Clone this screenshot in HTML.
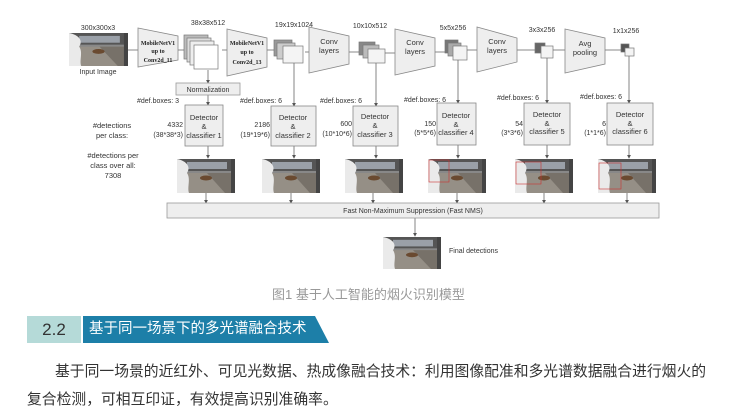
<!DOCTYPE html>
<html><head><meta charset="utf-8"><style>
body{margin:0;background:#fff;width:731px;height:419px;overflow:hidden;position:relative;font-family:"Liberation Sans","Noto Sans CJK SC",sans-serif}
svg{position:absolute;left:0;top:0}
.cap{position:absolute;left:272px;top:284px;font-size:13px;color:#999;white-space:nowrap}
.h1{position:absolute;left:27px;top:316px;width:54px;height:27px;background:#b5dad8;color:#333;font-size:17px;line-height:27px;text-align:center}
.h2{position:absolute;left:83px;top:316px;width:246px;height:27px;background:#1d7fa8;clip-path:polygon(0 0,232px 0,246px 27px,0 27px);color:#fff;font-size:14.5px;line-height:27px;padding-left:6px;box-sizing:border-box;white-space:nowrap}
.p{position:absolute;left:27px;font-size:14.8px;color:#333;white-space:nowrap}
</style></head><body>
<svg width="731" height="280" viewBox="0 0 731 280" font-family="Liberation Sans, sans-serif" font-size="7" fill="#333">
<defs>
<symbol id="im" viewBox="0 0 58 34" preserveAspectRatio="none">
<rect width="58" height="34" fill="#888"/>
<rect width="58" height="12" fill="#555"/>
<rect x="10" y="3" width="40" height="7" fill="#9aa0a8"/>
<polygon points="0,34 0,14 58,14 58,34" fill="#958f86"/>
<polygon points="30,14 58,14 58,34 48,34" fill="#777169"/>
<ellipse cx="29" cy="19" rx="6" ry="2.5" fill="#6a4a30"/>
<path d="M0,0 C10,2 14,8 10,14 C14,20 10,28 12,34 L0,34Z" fill="#eaeaea"/>
<rect x="54" y="0" width="4" height="34" fill="#444"/>
</symbol>
<marker id="ar" markerWidth="5" markerHeight="5" refX="4" refY="2.5" orient="auto"><path d="M0,0 L5,2.5 L0,5Z" fill="#555"/></marker>
</defs>
<g stroke="#888" stroke-width="1" fill="none">
<line x1="128" y1="50" x2="138" y2="50"/><line x1="178" y1="50" x2="186" y2="50"/>
<line x1="222" y1="50" x2="227" y2="50"/><line x1="267" y1="50" x2="276" y2="50"/>
<line x1="305" y1="52" x2="309" y2="52"/><line x1="349" y1="52" x2="361" y2="52"/>
<line x1="385" y1="53" x2="395" y2="53"/><line x1="435" y1="52" x2="447" y2="52"/>
<line x1="467" y1="50" x2="477" y2="50"/><line x1="517" y1="50" x2="537" y2="50"/>
<line x1="553" y1="50" x2="565" y2="50"/><line x1="605" y1="50" x2="623" y2="50"/>
</g>
<g stroke="#666" stroke-width="0.8" marker-end="url(#ar)">
<line x1="208" y1="70" x2="208" y2="83"/><line x1="208" y1="95" x2="208" y2="105"/>
<line x1="294" y1="62" x2="294" y2="106"/><line x1="376" y1="63" x2="376" y2="106"/>
<line x1="458" y1="60" x2="458" y2="103"/><line x1="547" y1="58" x2="547" y2="103"/>
<line x1="629" y1="56" x2="629" y2="103"/>
<line x1="208" y1="146" x2="208" y2="158"/><line x1="294" y1="146" x2="294" y2="158"/>
<line x1="376" y1="146" x2="376" y2="158"/><line x1="458" y1="145" x2="458" y2="158"/>
<line x1="547" y1="145" x2="547" y2="158"/><line x1="629" y1="145" x2="629" y2="158"/>
<line x1="206" y1="193" x2="206" y2="203"/><line x1="291" y1="193" x2="291" y2="203"/>
<line x1="373" y1="193" x2="373" y2="203"/><line x1="457" y1="193" x2="457" y2="203"/>
<line x1="544" y1="193" x2="544" y2="203"/><line x1="627" y1="193" x2="627" y2="203"/>
<line x1="415" y1="218" x2="415" y2="236"/>
</g>
<use href="#im" x="69" y="33" width="59" height="33"/>
<text x="98" y="30" text-anchor="middle">300x300x3</text>
<text x="98" y="74" text-anchor="middle">Input Image</text>
<g fill="#eee" stroke="#888" stroke-width="0.8">
<polygon points="138,28 178,36 178,60 138,67"/>
<polygon points="227,29 267,38 267,67 227,76"/>
<polygon points="309,27 349,36 349,64 309,73"/>
<polygon points="395,29 435,38 435,66 395,75"/>
<polygon points="477,27 517,38 517,62 477,72"/>
<polygon points="565,29 605,38 605,64 565,73"/>
</g>
<g font-family="Liberation Serif, serif" font-weight="bold" font-size="6" text-anchor="middle" fill="#222">
<text x="158" y="45">MobileNetV1</text><text x="158" y="53">up to</text><text x="158" y="62">Conv2d_11</text>
<text x="247" y="45">MobileNetV1</text><text x="247" y="54">up to</text><text x="247" y="64">Conv2d_13</text>
</g>
<g text-anchor="middle" font-size="7.5">
<text x="329" y="44">Conv</text><text x="329" y="53">layers</text>
<text x="415" y="45">Conv</text><text x="415" y="54">layers</text>
<text x="497" y="44">Conv</text><text x="497" y="53">layers</text>
<text x="585" y="46">Avg</text><text x="585" y="55">pooling</text>
</g>
<g stroke="#777" stroke-width="0.7">
<rect x="184" y="35" width="24" height="24" fill="#bbb"/><rect x="187" y="38" width="24" height="24" fill="#ddd"/><rect x="190" y="41" width="24" height="24" fill="#eee"/><rect x="194" y="45" width="24" height="24" fill="#fff"/>
<rect x="274" y="40" width="18" height="16" fill="#999"/><rect x="277" y="43" width="18" height="16" fill="#ccc"/><rect x="283" y="46" width="20" height="17" fill="#f4f4f4"/>
<rect x="359" y="42" width="16" height="13" fill="#888"/><rect x="363" y="45" width="16" height="13" fill="#bbb"/><rect x="368" y="49" width="17" height="14" fill="#f4f4f4"/>
<rect x="445" y="40" width="13" height="13" fill="#777"/><rect x="448" y="43" width="13" height="13" fill="#aaa"/><rect x="453" y="46" width="14" height="14" fill="#f4f4f4"/>
<rect x="535" y="43" width="10" height="10" fill="#666"/><rect x="541" y="46" width="12" height="12" fill="#f4f4f4"/>
<rect x="621" y="44" width="8" height="8" fill="#555"/><rect x="625" y="48" width="9" height="8" fill="#f4f4f4"/>
</g>
<text x="208" y="25" text-anchor="middle">38x38x512</text>
<text x="294" y="27" text-anchor="middle">19x19x1024</text>
<text x="370" y="28" text-anchor="middle">10x10x512</text>
<text x="453" y="30" text-anchor="middle">5x5x256</text>
<text x="542" y="32" text-anchor="middle">3x3x256</text>
<text x="626" y="33" text-anchor="middle">1x1x256</text>
<rect x="176" y="83" width="64" height="12" fill="#eee" stroke="#999" stroke-width="0.8"/>
<text x="208" y="92" text-anchor="middle">Normalization</text>
<text x="137" y="103">#def.boxes: 3</text>
<text x="240" y="103">#def.boxes: 6</text>
<text x="320" y="103">#def.boxes: 6</text>
<text x="404" y="102">#def.boxes: 6</text>
<text x="497" y="100">#def.boxes: 6</text>
<text x="580" y="99">#def.boxes: 6</text>
<g fill="#eee" stroke="#888" stroke-width="0.8">
<rect x="185" y="105" width="38" height="41"/><rect x="271" y="106" width="45" height="40"/><rect x="353" y="106" width="45" height="40"/>
<rect x="437" y="103" width="39" height="42"/><rect x="524" y="103" width="46" height="42"/><rect x="607" y="103" width="46" height="42"/>
</g>
<g text-anchor="middle" font-size="7.5">
<text x="204" y="120">Detector</text><text x="204" y="129">&amp;</text><text x="204" y="138">classifier 1</text>
<text x="293" y="120">Detector</text><text x="293" y="129">&amp;</text><text x="293" y="138">classifier 2</text>
<text x="375" y="119">Detector</text><text x="375" y="128">&amp;</text><text x="375" y="137">classifier 3</text>
<text x="456" y="118">Detector</text><text x="456" y="127">&amp;</text><text x="456" y="135">classifier 4</text>
<text x="547" y="117">Detector</text><text x="547" y="126">&amp;</text><text x="547" y="134">classifier 5</text>
<text x="630" y="117">Detector</text><text x="630" y="126">&amp;</text><text x="630" y="134">classifier 6</text>
</g>
<g text-anchor="end">
<text x="183" y="127">4332</text><text x="183" y="137">(38*38*3)</text>
<text x="270" y="127">2186</text><text x="270" y="137">(19*19*6)</text>
<text x="352" y="126">600</text><text x="352" y="136">(10*10*6)</text>
<text x="436" y="126">150</text><text x="436" y="135">(5*5*6)</text>
<text x="523" y="126">54</text><text x="523" y="135">(3*3*6)</text>
<text x="606" y="126">6</text><text x="606" y="135">(1*1*6)</text>
</g>
<g text-anchor="middle" font-size="7.5">
<text x="112" y="128">#detections</text><text x="112" y="138">per class:</text>
<text x="113" y="158">#detections per</text><text x="113" y="168">class over all:</text><text x="113" y="178">7308</text>
</g>
<use href="#im" x="177" y="159" width="58" height="34"/>
<use href="#im" x="262" y="159" width="58" height="34"/>
<use href="#im" x="345" y="159" width="58" height="34"/>
<use href="#im" x="428" y="159" width="58" height="34"/>
<use href="#im" x="515" y="159" width="58" height="34"/>
<use href="#im" x="598" y="159" width="58" height="34"/>
<g fill="none" stroke="#c33" stroke-width="0.6">
<rect x="429" y="160" width="20" height="22"/><rect x="516" y="162" width="25" height="22"/><rect x="599" y="163" width="22" height="26"/>
</g>
<rect x="167" y="203" width="492" height="15" fill="#eee" stroke="#999" stroke-width="0.8"/>
<text x="413" y="213" text-anchor="middle">Fast Non-Maximum Suppression (Fast NMS)</text>
<use href="#im" x="383" y="237" width="58" height="32"/>
<text x="449" y="253">Final detections</text>
</svg>
<div class="cap">图1 基于人工智能的烟火识别模型</div>
<div class="h1">2.2</div>
<div class="h2">基于同一场景下的多光谱融合技术</div>
<div class="p" style="left:55px;top:360px">基于同一场景的近红外、可见光数据、热成像融合技术：利用图像配准和多光谱数据融合进行烟火的</div>
<div class="p" style="top:388px">复合检测，可相互印证，有效提高识别准确率。</div>
</body></html>
